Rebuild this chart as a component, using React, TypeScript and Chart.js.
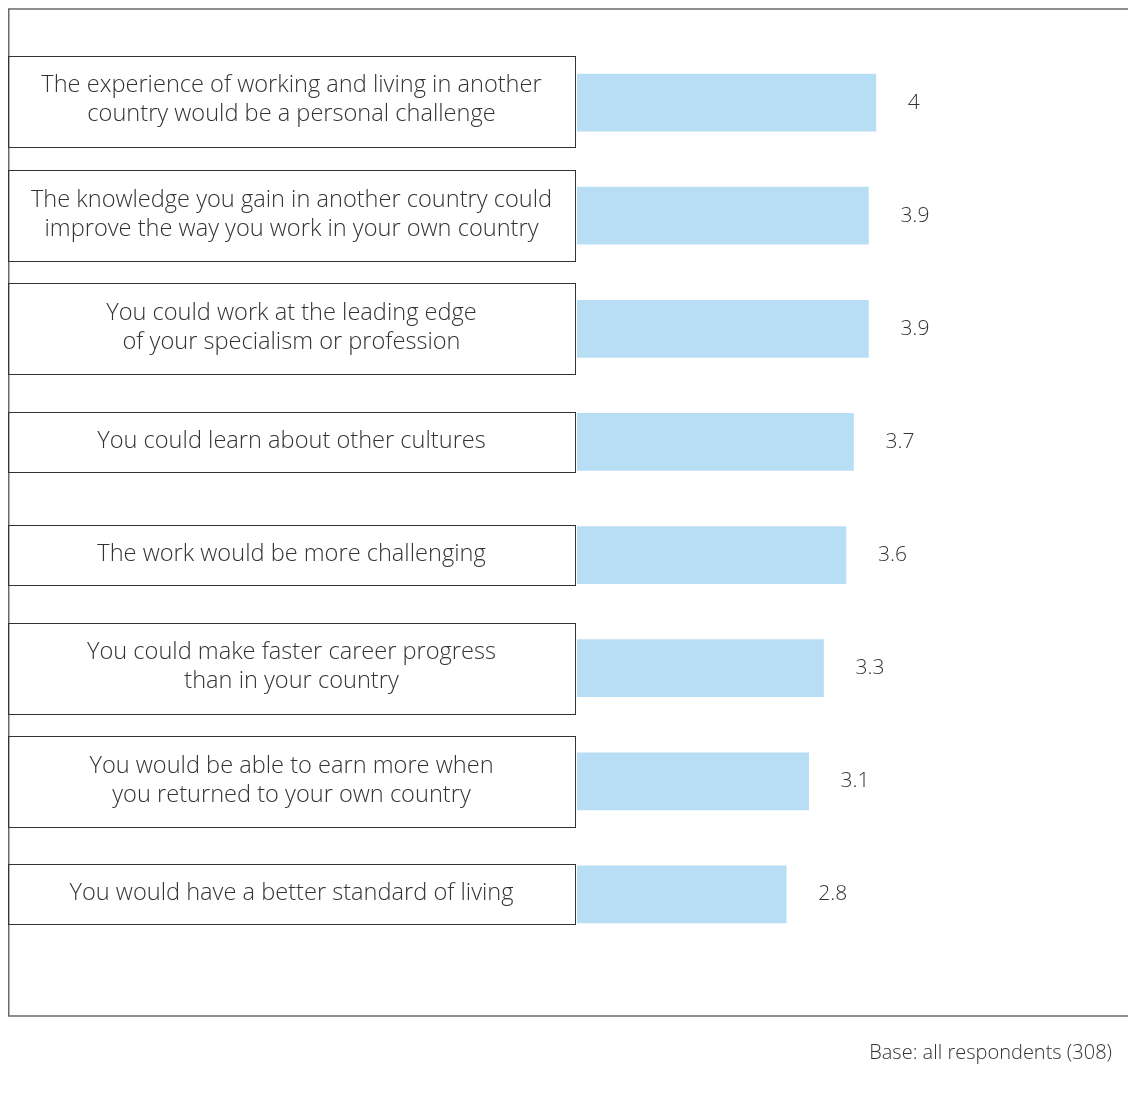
import React, { useEffect, useRef } from "react";
import { Chart, registerables } from "chart.js";

Chart.register(...registerables);

const categories: string[][] = [
  ["The experience of working and living in another", "country would be a personal challenge"],
  ["The knowledge you gain in another country could", "improve the way you work in your own country"],
  ["You could work at the leading edge", "of your specialism or profession"],
  ["You could learn about other cultures"],
  ["The work would be more challenging"],
  ["You could make faster career progress", "than in your country"],
  ["You would be able to earn more when", "you returned to your own country"],
  ["You would have a better standard of living"],
];

const values: number[] = [4, 3.9, 3.9, 3.7, 3.6, 3.3, 3.1, 2.8];
const valueLabels: string[] = ["4", "3.9", "3.9", "3.7", "3.6", "3.3", "3.1", "2.8"];
const footnote = "Base: all respondents (308)";

const FONT = '"Open Sans", "Noto Sans", sans-serif';

const decorPlugin = {
  id: "decor",
  beforeDatasetsDraw(chart: any) {
    const { ctx, width } = chart;
    const yScale = chart.scales.y;
    ctx.save();
    // outer frame (top, left, bottom)
    ctx.strokeStyle = "#6a6a6a";
    ctx.lineWidth = 1.5;
    ctx.beginPath();
    ctx.moveTo(width + 10, 1);
    ctx.lineTo(0.75, 1);
    ctx.lineTo(0.75, 1008);
    ctx.lineTo(width + 10, 1008);
    ctx.stroke();

    // label boxes
    categories.forEach((lines, i) => {
      const cy = yScale.getPixelForValue(i) - (i === 0 ? 1.5 : 0);
      const h = lines.length === 2 ? 91 : 60;
      const top = Math.round(cy - h / 2) + 0.5;
      ctx.strokeStyle = "#333333";
      ctx.lineWidth = 1;
      ctx.strokeRect(0.5, top, 567, h);
      ctx.fillStyle = "#333333";
      ctx.font = `300 23.6px ${FONT}`;
      ctx.textAlign = "center";
      ctx.textBaseline = "middle";
      const lh = 29;
      lines.forEach((ln, j) => {
        const y = cy + (j - (lines.length - 1) / 2) * lh - 1;
        ctx.fillText(ln, 283.5, y);
      });
    });
    ctx.restore();
  },
  afterDatasetsDraw(chart: any) {
    const { ctx } = chart;
    const meta = chart.getDatasetMeta(0);
    ctx.save();
    ctx.fillStyle = "#333333";
    ctx.font = `300 21px ${FONT}`;
    ctx.textAlign = "left";
    ctx.textBaseline = "middle";
    meta.data.forEach((bar: any, i: number) => {
      ctx.fillText(valueLabels[i], bar.x + 32, bar.y);
    });
    ctx.font = `300 20px ${FONT}`;
    ctx.textAlign = "right";
    ctx.fillText(footnote, 1104, 1045);
    ctx.restore();
  },
};

export default function App() {
  const ref = useRef<HTMLCanvasElement | null>(null);
  useEffect(() => {
    if (!ref.current) return;
    const chart = new Chart(ref.current, {
      type: "bar",
      data: {
        labels: categories.map((c) => c.join(" ")),
        datasets: [
          {
            data: values,
            backgroundColor: "#b8def5",
            borderWidth: 0,
            barThickness: 57,
          },
        ],
      },
      options: {
        indexAxis: "y",
        animation: false,
        responsive: false,
        maintainAspectRatio: false,
        layout: { padding: { left: 569, right: 36, top: 38, bottom: 147 } },
        plugins: { legend: { display: false }, tooltip: { enabled: false } },
        scales: {
          x: { display: false, min: 0, max: 7 },
          y: { display: false },
        },
      },
      plugins: [decorPlugin],
    });
    return () => chart.destroy();
  }, []);
  return (
    <div style={{ width: 1128, height: 1090 }}>
      <canvas ref={ref} width={1128} height={1090} style={{ display: "block" }} />
    </div>
  );
}
